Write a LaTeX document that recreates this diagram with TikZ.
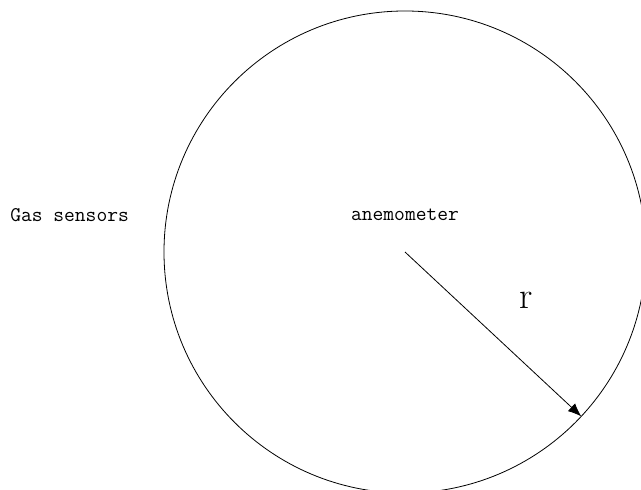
\documentclass[tikz,border=0pt]{standalone}
\usepackage{fontspec}
\usepackage{tikz}
\usetikzlibrary{arrows.meta, positioning, calc}

\tikzset{
    tag/.style={font=\ttfamily\fontsize{15.7}{18}\selectfont, inner sep=0pt},
    radius arrow/.style={line width=0.6pt, -{Latex[length=10pt, width=8pt]}}
}

\begin{document}
\begin{tikzpicture}[x=0.75pt, y=0.75pt]
    % Frame (one unit = one pixel of the drawing)
    \useasboundingbox (0,0) rectangle (641,489);
    \clip (0,0) rectangle (641,489);

    % Centre of the measuring area
    \coordinate (C) at (405,237);
    \node[circle, draw, line width=0.6pt, minimum size=361.5pt, inner sep=0pt, outer sep=0pt] (area) at (C) {};

    % Labels
    \node[tag] (anemo) at (405,274) {anemometer};
    \node[tag, anchor=west] (gas) at (10,274) {Gas sensors};

    % Radius
    \draw[radius arrow] (C) -- (area.-43);
    \node[font=\fontsize{28}{30}\selectfont, inner sep=0pt] (rlabel) at (526,189) {r};
\end{tikzpicture}
\end{document}
